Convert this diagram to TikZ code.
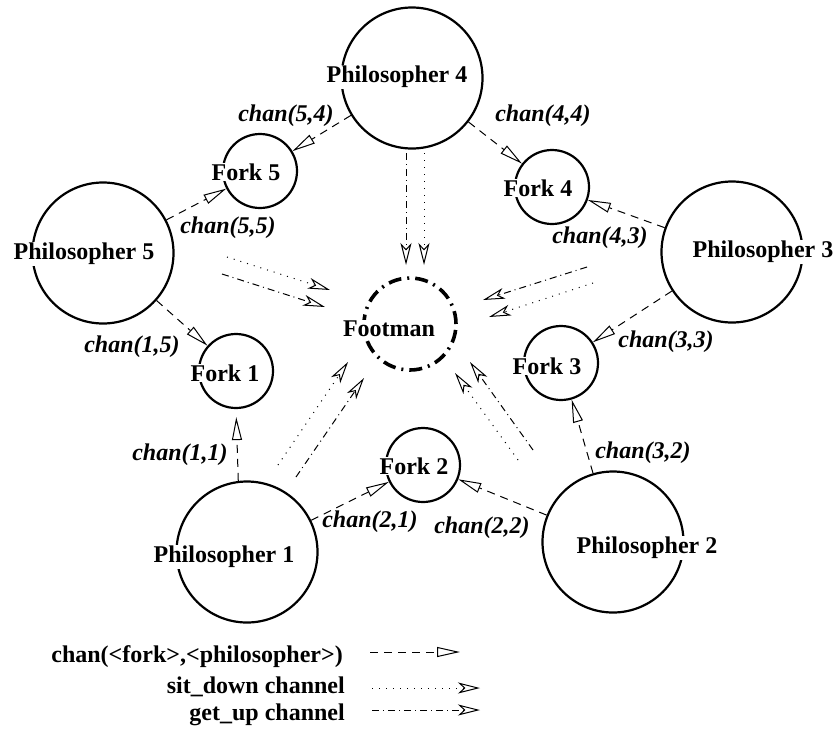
\documentclass[tikz,border=0pt]{standalone}
\usepackage{fontspec}
\setmainfont{Liberation Serif}
\usetikzlibrary{arrows.meta}

\begin{document}
\begin{tikzpicture}[x=1pt,y=-1pt,
  phil/.style={circle,draw,line width=2.2pt,minimum size=141pt,inner sep=0pt},
  fork/.style={circle,draw,line width=2.2pt,minimum size=74pt,inner sep=0pt},
  footman/.style={circle,draw,line width=3.6pt,minimum size=92pt,inner sep=0pt,
    dash pattern=on 13pt off 6pt on 2pt off 6pt},
  nametxt/.style={font=\fontsize{24}{28}\selectfont\bfseries,fill=white,inner sep=1pt},
  chanlbl/.style={font=\fontsize{24}{28}\selectfont\bfseries\itshape,inner sep=0pt},
  legendtxt/.style={font=\fontsize{24}{28}\selectfont\bfseries,inner sep=0pt,anchor=east},
  chan/.style={line width=1pt,dash pattern=on 8pt off 6pt,
    -{Triangle[open,length=23pt,width=10pt,line width=1pt]}},
  sitdown/.style={line width=1pt,dash pattern=on 1pt off 6pt,
    -{Stealth[open,length=22pt,width=11pt,inset=6pt,line width=1pt]}},
  getup/.style={line width=1pt,dash pattern=on 7pt off 4pt on 1pt off 4pt,
    -{Stealth[open,length=22pt,width=11pt,inset=6pt,line width=1pt]}}
]
\useasboundingbox (0,0) rectangle (837,729);

% philosophers, forks and the footman
\node[phil] (p1) at (247,552) {};
\node[phil] (p2) at (613,542) {};
\node[phil] (p3) at (732,252) {};
\node[phil] (p4) at (412,78) {};
\node[phil] (p5) at (103,253) {};
\node[fork] (f1) at (236,371) {};
\node[fork] (f2) at (423,465) {};
\node[fork] (f3) at (561,363) {};
\node[fork] (f4) at (552,187) {};
\node[fork] (f5) at (260,171) {};
\node[footman] (fm) at (410,324) {};

% fork channels
\draw[chan] (p4) -- (f5);
\draw[chan] (p4) -- (f4);
\draw[chan] (p5) -- (f5);
\draw[chan] (p3) -- (f4);
\draw[chan] (p5) -- (f1);
\draw[chan] (p3) -- (f3);
\draw[chan,shorten >=8pt] (p1.97) -- (f1.south);
\draw[chan] (p1) -- (f2);
\draw[chan] (p2) -- (f2);
\draw[chan] (p2) -- (f3);

% sit_down / get_up channels towards the footman
\coordinate (g4s) at (406,153); \coordinate (g4e) at (406,265);
\coordinate (s4s) at (424,153); \coordinate (s4e) at (424,265);
\coordinate (s5s) at (227,257); \coordinate (s5e) at (330,290);
\coordinate (g5s) at (222,274); \coordinate (g5e) at (325,307);
\coordinate (g3s) at (587,267); \coordinate (g3e) at (483,300);
\coordinate (s3s) at (593,283); \coordinate (s3e) at (489,317);
\coordinate (s1s) at (278,465); \coordinate (s1e) at (348,362);
\coordinate (g1s) at (296,477); \coordinate (g1e) at (364,378);
\coordinate (s2s) at (518,460); \coordinate (s2e) at (455,373);
\coordinate (g2s) at (533,450); \coordinate (g2e) at (470,362);
\draw[getup] (g4s) -- (g4e);
\draw[sitdown] (s4s) -- (s4e);
\draw[sitdown] (s5s) -- (s5e);
\draw[getup] (g5s) -- (g5e);
\draw[getup] (g3s) -- (g3e);
\draw[sitdown] (s3s) -- (s3e);
\draw[sitdown] (s1s) -- (s1e);
\draw[getup] (g1s) -- (g1e);
\draw[sitdown] (s2s) -- (s2e);
\draw[getup] (g2s) -- (g2e);

% names
\node[nametxt] (p1t) at (224,557) {Philosopher 1};
\node[nametxt] (p2t) at (647,548) {Philosopher 2};
\node[nametxt] (p3t) at (763,252) {Philosopher 3};
\node[nametxt] (p4t) at (397,77) {Philosopher 4};
\node[nametxt] (p5t) at (84,254) {Philosopher 5};
\node[nametxt] (f1t) at (225,373) {Fork 1};
\node[nametxt] (f2t) at (414,466) {Fork 2};
\node[nametxt] (f3t) at (547,366) {Fork 3};
\node[nametxt] (f4t) at (538,188) {Fork 4};
\node[nametxt] (f5t) at (246,172) {Fork 5};
\node[nametxt] (fmt) at (389,329) {Footman};

% channel labels
\node[chanlbl] (c54) at (286,116) {chan(5,4)};
\node[chanlbl] (c44) at (543,116) {chan(4,4)};
\node[chanlbl] (c55) at (228,228) {chan(5,5)};
\node[chanlbl] (c43) at (600,238) {chan(4,3)};
\node[chanlbl] (c15) at (132,347) {chan(1,5)};
\node[chanlbl] (c33) at (666,342) {chan(3,3)};
\node[chanlbl] (c11) at (180,455) {chan(1,1)};
\node[chanlbl] (c21) at (370,522) {chan(2,1)};
\node[chanlbl] (c22) at (482,528) {chan(2,2)};
\node[chanlbl] (c32) at (643,453) {chan(3,2)};

% legend
\node[legendtxt] (l1) at (343,657) {chan(<fork>,<philosopher>)};
\node[legendtxt] (l2) at (345,687) {sit\_down channel};
\node[legendtxt] (l3) at (345,715) {get\_up channel};
\coordinate (l1a) at (370,652); \coordinate (l1b) at (460,652);
\coordinate (l2a) at (372,688); \coordinate (l2b) at (480,688);
\coordinate (l3a) at (372,710); \coordinate (l3b) at (480,710);
\draw[chan] (l1a) -- (l1b);
\draw[sitdown] (l2a) -- (l2b);
\draw[getup] (l3a) -- (l3b);
\end{tikzpicture}
\end{document}
